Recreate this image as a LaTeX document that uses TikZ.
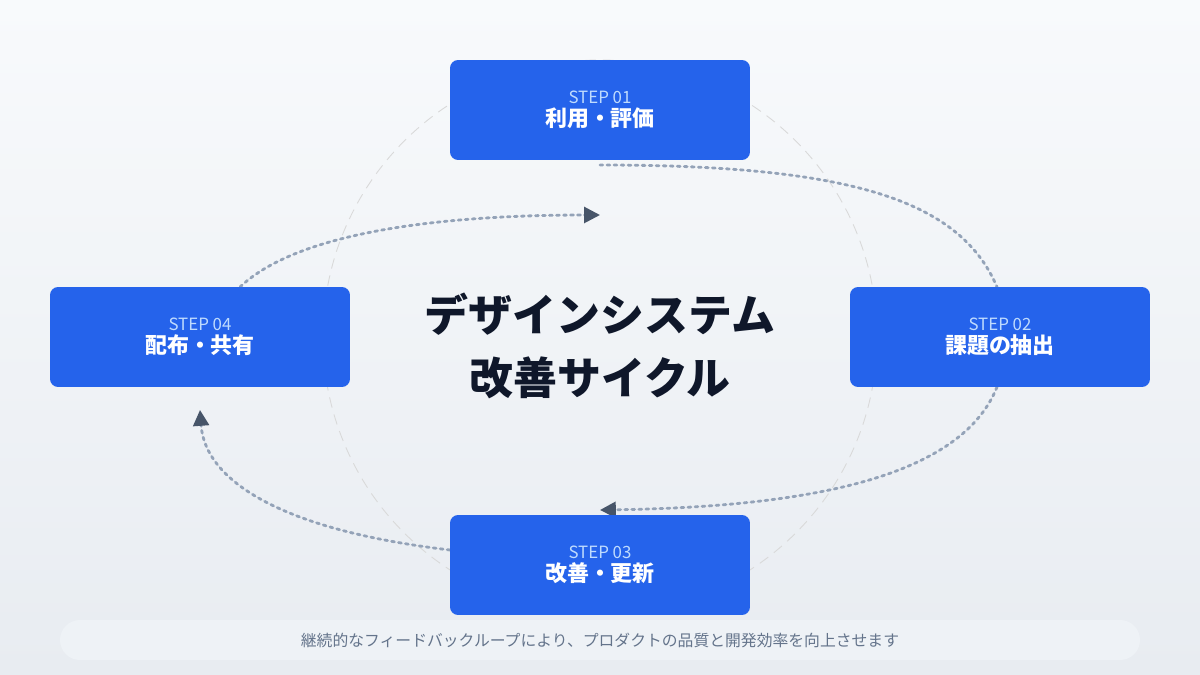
\documentclass[tikz,border=0pt]{standalone}
\usepackage{fontspec}
\setmainfont{Noto Sans CJK JP}
\usetikzlibrary{arrows.meta}
\definecolor{bgtop}{HTML}{F8FAFC}
\definecolor{bgbot}{HTML}{E8ECF1}
\definecolor{stepblue}{HTML}{2563EB}
\definecolor{steplight}{HTML}{BFDBFE}
\definecolor{dotc}{HTML}{94A3B8}
\definecolor{tipc}{HTML}{475569}
\definecolor{titlec}{HTML}{0F172A}
\definecolor{capc}{HTML}{64748B}
\definecolor{pillc}{HTML}{EEF2F6}
\tikzset{
  stepbox/.style={fill=stepblue,rounded corners=8*0.02cm,minimum width=6cm,minimum height=2cm,align=center,text=white,inner sep=0},
  flow/.style={draw=dotc,line width=1.6pt,dash pattern=on 1.6pt off 2.4pt,line cap=round},
  flowarrow/.style={flow,-{Triangle[length=9pt,width=9pt,fill=tipc,color=tipc]}},
}
\newcommand{\stepl}[2]{{\fontsize{9.6}{12}\selectfont\color{steplight}#1}\\[1pt]{\fontsize{12.5}{15}\selectfont\bfseries #2}}
\begin{document}
\begin{tikzpicture}[x=0.02cm,y=-0.02cm]
\shade[top color=bgtop,bottom color=bgbot] (0,0) rectangle (1200,675);
\useasboundingbox (0,0) rectangle (1200,675);
\draw[black!15,line width=0.5pt,dash pattern=on 6pt off 4pt] (600,337) circle[radius=277*0.02cm];
\coordinate (c1s) at (600,165);
\coordinate (c1e) at (997,287);
\coordinate (c2s) at (997,387);
\coordinate (c2e) at (600,510);
\coordinate (c3s) at (450,550);
\coordinate (c3e) at (200,410);
\coordinate (c4s) at (240,287);
\coordinate (c4e) at (600,215);
\draw[flow] (c1s) .. controls (850,165) and (960,200) .. (c1e);
\draw[flowarrow] (c2s) .. controls (960,480) and (800,507) .. (c2e);
\draw[flowarrow] (c3s) .. controls (280,530) and (205,480) .. (c3e);
\draw[flowarrow] (c4s) .. controls (300,230) and (450,215) .. (c4e);
\node[stepbox] (s1) at (600,110) {\stepl{STEP 01}{利用・評価}};
\node[stepbox] (s2) at (1000,337) {\stepl{STEP 02}{課題の抽出}};
\node[stepbox] (s3) at (600,565) {\stepl{STEP 03}{改善・更新}};
\node[stepbox] (s4) at (200,337) {\stepl{STEP 04}{配布・共有}};
\node[align=center,text=titlec,font=\fontsize{25}{36}\selectfont\bfseries] (title) at (600,346) {デザインシステム\\改善サイクル};
\fill[pillc,rounded corners=20*0.02cm] (60,620) rectangle (1140,660);
\node[text=capc,font=\fontsize{9}{11}\selectfont] (cap) at (600,640) {継続的なフィードバックループにより、プロダクトの品質と開発効率を向上させます};
\end{tikzpicture}
\end{document}
